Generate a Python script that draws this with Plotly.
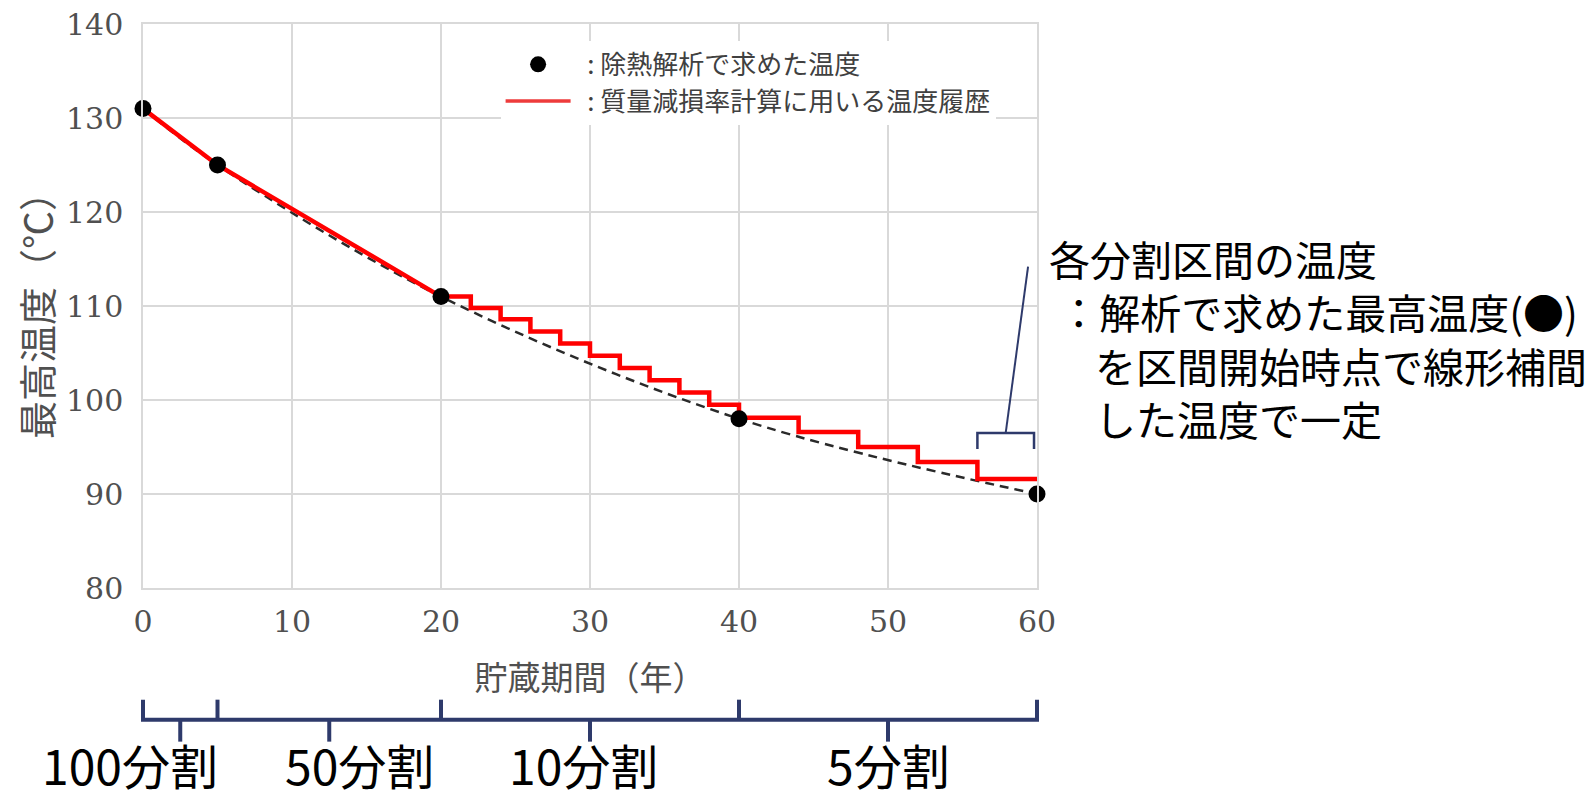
import plotly.graph_objects as go

# ---------------- data ----------------
# analysed maximum temperatures (●)
analysis_years = [0, 5, 20, 40, 60]
analysis_temps = [131, 125, 111, 98, 90]

# temperature history used for mass-loss calculation
# 0–20 years: very fine division (100 / 50 steps) -> appears as a continuous line
fine_years = [0, 5, 20]
fine_temps = [131, 125, 111]
# 20–60 years: step history (start year of each interval, constant temperature)
step_years = [20, 22, 24, 26, 28, 30, 32, 34, 36, 38, 40, 44, 48, 52, 56, 60]
step_temps = [111.0, 109.8, 108.6, 107.3, 106.0, 104.7, 103.4, 102.1, 100.8, 99.5,
              98.1, 96.6, 95.0, 93.4, 91.6, 91.6]

x_ticks = [0, 10, 20, 30, 40, 50, 60]
y_ticks = [80, 90, 100, 110, 120, 130, 140]

segment_bounds = [0, 5, 20, 40, 60]
segment_labels = ["100分割", "50分割", "10分割", "5分割"]
segment_label_shift = [-50, 30, -7, 0]

NBSP = "\u00a0"
legend_points = NBSP * 2 + ": 除熱解析で求めた温度"
legend_history = NBSP * 2 + ": 質量減損率計算に用いる温度履歴"
x_title = "貯蔵期間（年）"
y_title = "最高温度（℃）"
note_lines = ["各分割区間の温度", "：解析で求めた最高温度(●)",
              "を区間開始時点で線形補間", "した温度で一定"]
note_indent = [0, 1, 5, 5]   # leading spaces per line

# callout bracket interval
callout_start, callout_end = 56, 59.8

# ---------------- figure ----------------
NAVY = "#2E3A6B"
GRAY_TXT = "#505050"
JP = "Noto Sans CJK JP"

fig = go.Figure()

# dashed trend curve through the analysed points
fig.add_trace(go.Scatter(
    x=analysis_years, y=analysis_temps, mode="lines",
    line=dict(color="#2A2A2A", width=2.5, dash="9px,6px", shape="spline"),
    showlegend=False, hoverinfo="skip"))

# red temperature history
fig.add_trace(go.Scatter(
    x=fine_years, y=fine_temps, mode="lines",
    line=dict(color="#FF0000", width=4.5),
    name=legend_history, legendgroup="hist", showlegend=False))
fig.add_trace(go.Scatter(
    x=step_years, y=step_temps, mode="lines",
    line=dict(color="#FF0000", width=4.5, shape="hv"),
    name=legend_history, legendgroup="hist", showlegend=False))

# analysed points
fig.add_trace(go.Scatter(
    x=analysis_years, y=analysis_temps, mode="markers",
    marker=dict(color="black", size=17),
    name=legend_points, showlegend=False, cliponaxis=False))

# legend entries
fig.add_trace(go.Scatter(
    x=[None], y=[None], mode="markers",
    marker=dict(color="black", size=20), name=legend_points))
fig.add_trace(go.Scatter(
    x=[None], y=[None], mode="lines",
    line=dict(color="#EE3B3B", width=3.5), name=legend_history))

# ---------------- bottom division brackets ----------------
X0 = segment_bounds[0]
X1 = segment_bounds[-1]
span = X1 - X0
def px(v):
    return (v - X0) / span

Y_UP, Y_MID, Y_DN = -0.198, -0.2334, -0.2724
shapes = []
shapes.append(dict(type="path", xref="paper", yref="paper",
                   path=f"M{px(X0)},{Y_UP} L{px(X0)},{Y_MID} L{px(X1)},{Y_MID} L{px(X1)},{Y_UP}",
                   line=dict(color=NAVY, width=4)))
for b in segment_bounds[1:-1]:
    shapes.append(dict(type="line", xref="paper", yref="paper",
                       x0=px(b), x1=px(b), y0=Y_UP, y1=Y_MID,
                       line=dict(color=NAVY, width=4)))
annotations = []
for a, b, lab, sh in zip(segment_bounds[:-1], segment_bounds[1:], segment_labels, segment_label_shift):
    m = (a + b) / 2
    shapes.append(dict(type="line", xref="paper", yref="paper",
                       x0=px(m), x1=px(m), y0=Y_MID, y1=Y_DN,
                       line=dict(color=NAVY, width=4)))
    annotations.append(dict(xref="paper", yref="paper", x=px(m), y=-0.312,
                            text=lab, showarrow=False, xanchor="center", yanchor="middle",
                            xshift=sh, font=dict(family=JP, size=48, color="black")))

# callout bracket over the last interval
cm = (callout_start + callout_end) / 2
shapes.append(dict(type="path", xref="x", yref="y",
                   path=f"M{callout_start},94.8 L{callout_start},96.5 L{callout_end},96.5 L{callout_end},94.8",
                   line=dict(color=NAVY, width=2.5)))
shapes.append(dict(type="line", xref="x", yref="y",
                   x0=cm, y0=96.5, x1=59.4, y1=114.2,
                   line=dict(color=NAVY, width=2)))

# note text block
note_text = "<br>".join(NBSP * n + t for n, t in zip(note_indent, note_lines))
annotations.append(dict(xref="paper", yref="paper", x=1.0115, y=0.444, text=note_text,
                        showarrow=False, xanchor="left", yanchor="middle", align="left",
                        font=dict(family=JP, size=41, color="black")))

fig.update_layout(
    width=1588, height=790, autosize=False,
    margin=dict(l=135, r=559, t=16, b=210, autoexpand=False),
    paper_bgcolor="white", plot_bgcolor="white",
    shapes=shapes, annotations=annotations,
    legend=dict(x=0.40, y=0.97, xanchor="left", yanchor="top",
                bgcolor="white", borderwidth=0, itemwidth=65,
                font=dict(family=JP, size=26, color="#404040"),
                tracegroupgap=0),
)
fig.update_xaxes(range=[0, 60], tickvals=x_ticks, showgrid=True, gridcolor="#D9D9D9",
                 gridwidth=1.5, showline=True, linecolor="#D9D9D9", linewidth=1.5, mirror=True,
                 zeroline=False, ticks="", ticklabelstandoff=6, automargin=False,
                 ticklabeloverflow="allow",
                 tickfont=dict(family="DejaVu Serif", size=30, color=GRAY_TXT),
                 title=dict(text=x_title, standoff=29,
                            font=dict(family=JP, size=33, color=GRAY_TXT)))
fig.update_yaxes(range=[80, 140], tickvals=y_ticks, showgrid=True, gridcolor="#D9D9D9",
                 gridwidth=1.5, showline=True, linecolor="#D9D9D9", linewidth=1.5, mirror=True,
                 zeroline=False, ticks="", ticklabelstandoff=12, automargin=False,
                 ticklabeloverflow="allow",
                 tickfont=dict(family="DejaVu Serif", size=30, color=GRAY_TXT),
                 title=dict(text=y_title, standoff=11,
                            font=dict(family=JP, size=38, color=GRAY_TXT)))

fig.write_html("out.html")
